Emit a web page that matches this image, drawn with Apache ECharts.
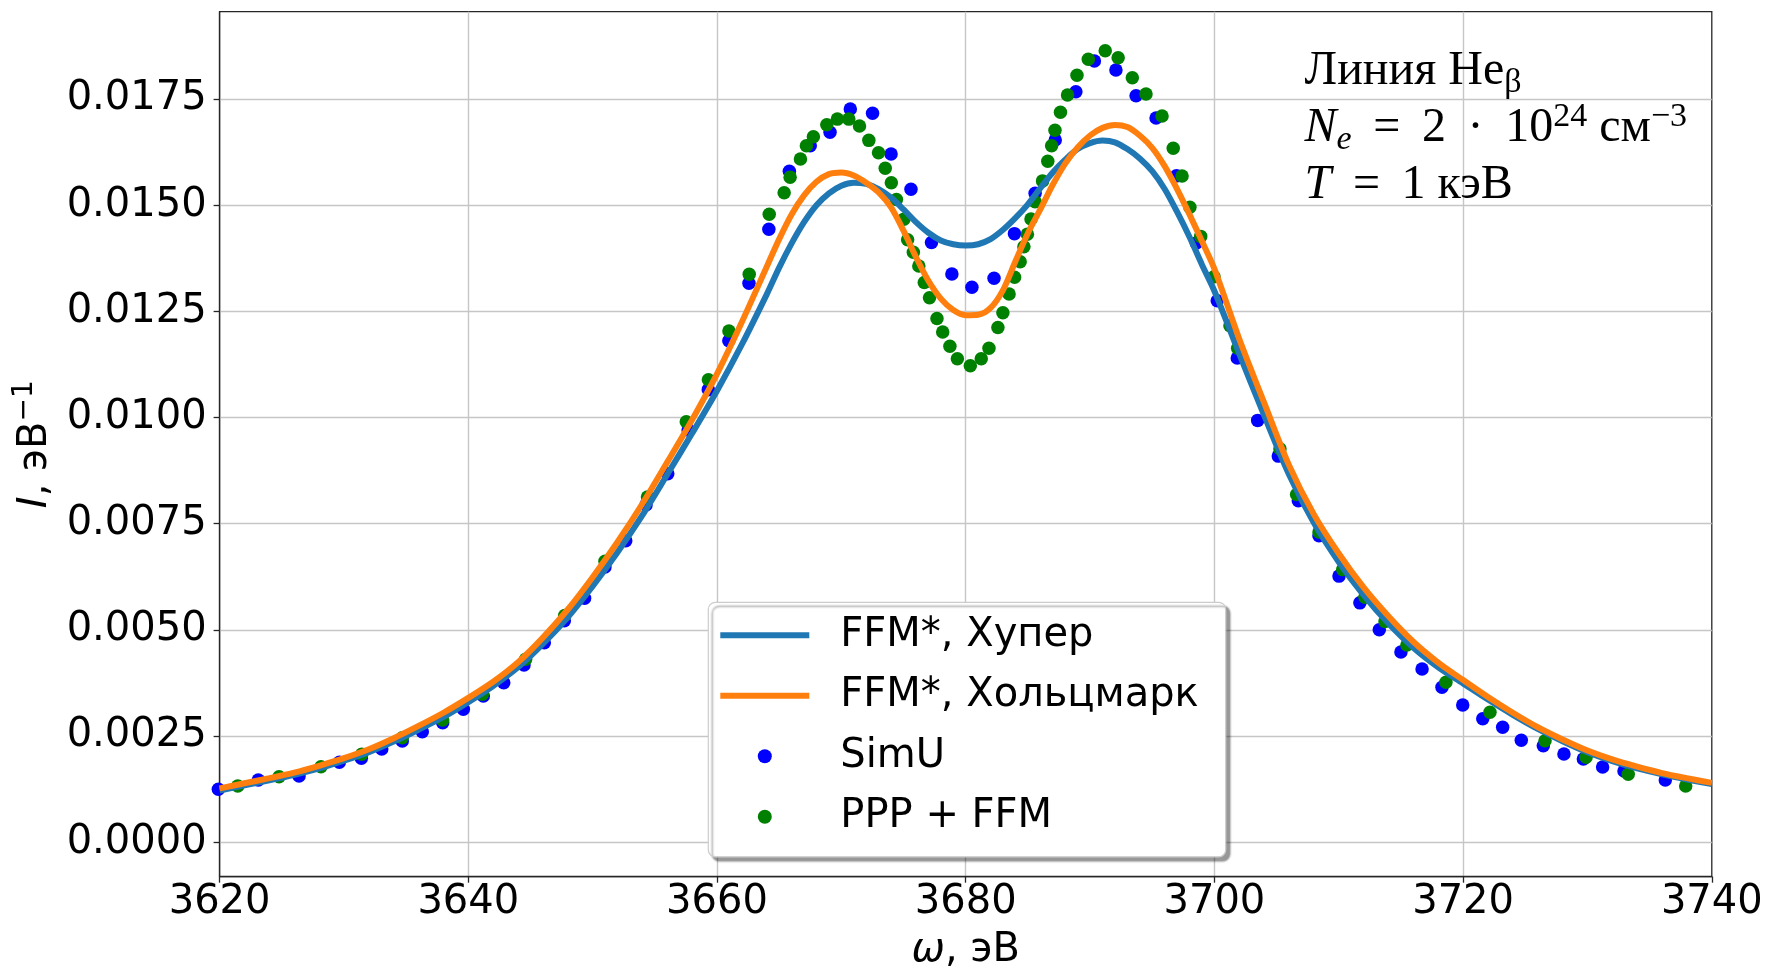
<!DOCTYPE html>
<html>
<head>
<meta charset="utf-8">
<script src="https://cdn.jsdelivr.net/npm/echarts@6/dist/echarts.min.js"></script>
<style>html,body{margin:0;padding:0;background:#fff}#c{width:1768px;height:967px}</style>
</head>
<body>
<div id="c"></div>
<script>
// ---------- data ----------
const curveX = [3620,3622,3624,3626,3628,3630,3632,3634,3636,3638,3640,3642,3644,3646,3648,3650,3652,3654,3656,3658,3660,3662,3664,
  3665,3666,3667,3668,3669,3670,3671,3672,3673,3674,3675,3676,3677,3678,3679,3680,3681,3682,3683,3684,3685,3686,3687,3688,3689,3690,3691,3692,3693,3694,3695,3696,3697,3698,3699,3700,
  3702,3704,3706,3708,3710,3712,3714,3716,3718,3720,3722,3724,3726,3728,3730,3732,3734,3736,3738,3740];
const hooperY = [0.00122,0.00134,0.00146,0.00159,0.00174,0.00192,0.00212,0.00237,0.00265,0.00295,0.00330,0.00368,0.00412,0.00467,0.00530,0.00603,0.00683,0.00770,0.00866,0.00963,0.01063,0.01172,0.01290,
  0.01353,0.01410,0.01460,0.01500,0.01528,0.01546,0.01553,0.01550,0.01538,0.01518,0.01490,0.01460,0.01435,0.01417,0.01408,0.01405,0.01408,0.01420,0.01442,0.01470,0.01502,0.01540,0.01577,0.01607,0.01632,0.01646,0.01652,0.01648,0.01632,0.01610,0.01580,0.01538,0.01484,0.01425,0.01360,0.01298,
  0.01150,0.01005,0.00866,0.00752,0.00660,0.00582,0.00515,0.00458,0.00412,0.00374,0.00336,0.00300,0.00267,0.00238,0.00212,0.00191,0.00174,0.00160,0.00148,0.00137];
const holtsmarkY = [0.00127,0.00139,0.00151,0.00164,0.00180,0.00198,0.00219,0.00245,0.00274,0.00305,0.00340,0.00378,0.00424,0.00482,0.00548,0.00624,0.00707,0.00797,0.00895,0.00995,0.01103,0.01225,0.01355,
  0.01420,0.01478,0.01523,0.01555,0.01573,0.01577,0.01570,0.01553,0.01530,0.01495,0.01440,0.01378,0.01322,0.01280,0.01253,0.01241,0.01242,0.01258,0.01300,0.01368,0.01434,0.01490,0.01548,0.01598,0.01636,0.01664,0.01682,0.01689,0.01684,0.01664,0.01635,0.01592,0.01538,0.01478,0.01415,0.01350,
  0.01185,0.01035,0.00888,0.00772,0.00680,0.00600,0.00532,0.00472,0.00423,0.00382,0.00342,0.00305,0.00271,0.00242,0.00216,0.00195,0.00178,0.00163,0.00151,0.00140];
const simuX = [3619.90,3623.11,3626.39,3629.63,3631.40,3633.04,3634.69,3636.30,3637.94,3639.60,3641.21,3642.85,3644.48,3646.11,3647.72,3649.35,3650.99,3652.66,3654.29,3656.04,3657.68,3659.30,3660.95,3662.57,3664.17,3665.82,3667.50,3669.09,3670.72,3672.51,3674.00,3675.60,3677.25,3678.89,3680.50,3682.28,3683.92,3685.58,3687.20,3688.86,3690.35,3692.08,3693.70,3695.31,3696.95,3698.55,3700.23,3701.84,3703.48,3705.14,3706.75,3708.41,3710.02,3711.70,3713.26,3715.00,3716.70,3718.30,3719.97,3721.58,3723.18,3724.68,3726.45,3728.11,3729.67,3731.22,3732.94,3736.26];
const simuY = [0.001248,0.001467,0.001561,0.001883,0.001978,0.002197,0.002385,0.002604,0.002816,0.003131,0.003444,0.003758,0.004174,0.004699,0.005215,0.005744,0.006480,0.007101,0.007941,0.008675,0.009707,0.010657,0.011809,0.013160,0.014432,0.015800,0.016400,0.016716,0.017264,0.017163,0.016205,0.015377,0.014121,0.013379,0.013066,0.013278,0.014330,0.015279,0.016534,0.017671,0.018394,0.018182,0.017574,0.017050,0.015690,0.014110,0.012751,0.011404,0.009933,0.009092,0.008042,0.007218,0.006267,0.005637,0.005006,0.004482,0.004080,0.003649,0.003232,0.002910,0.002707,0.002401,0.002274,0.002079,0.001961,0.001773,0.001679,0.001467];
const pppX = [3621.46,3624.78,3628.15,3631.43,3634.69,3637.94,3641.13,3644.61,3647.75,3650.99,3654.41,3657.53,3659.31,3660.96,3662.59,3664.20,3665.40,3665.88,3666.71,3667.19,3667.75,3668.83,3669.68,3670.60,3671.46,3672.21,3672.99,3673.53,3674.02,3674.43,3675.03,3675.33,3675.79,3676.23,3676.67,3677.09,3677.69,3678.15,3678.73,3679.33,3680.37,3681.25,3681.87,3682.59,3682.99,3683.49,3683.93,3684.38,3684.68,3684.96,3685.25,3685.58,3686.18,3686.60,3686.91,3687.18,3687.62,3688.19,3688.95,3689.86,3691.22,3692.26,3693.40,3694.50,3695.79,3696.69,3697.40,3698.03,3698.90,3699.97,3701.25,3701.87,3705.27,3706.61,3708.41,3710.32,3712.11,3713.72,3715.48,3718.62,3722.16,3726.59,3729.89,3733.28,3737.90];
const pppY = [0.001325,0.001545,0.001780,0.002072,0.002463,0.002879,0.003484,0.004308,0.005340,0.006615,0.008130,0.009903,0.010892,0.012038,0.013372,0.014785,0.015293,0.015660,0.016087,0.016397,0.016612,0.016893,0.017026,0.017026,0.016864,0.016526,0.016235,0.015868,0.015529,0.015133,0.014671,0.014188,0.013890,0.013568,0.013180,0.012821,0.012332,0.012014,0.011677,0.011382,0.011221,0.011382,0.011630,0.012120,0.012468,0.012908,0.013302,0.013666,0.014022,0.014318,0.014675,0.015082,0.015572,0.016032,0.016397,0.016762,0.017186,0.017593,0.018060,0.018434,0.018636,0.018472,0.018001,0.017617,0.017100,0.016340,0.015686,0.014952,0.014265,0.013313,0.012162,0.011633,0.009262,0.008186,0.007303,0.006420,0.005770,0.005198,0.004646,0.003767,0.003061,0.002392,0.002001,0.001601,0.001325];
const seriesNames = ['FFM*, Хупер', 'FFM*, Хольцмарк', 'SimU', 'PPP + FFM'];
const yTickValues = [0, 0.0025, 0.005, 0.0075, 0.01, 0.0125, 0.015, 0.0175];
const X_MIN = 3620, X_MAX = 3740, X_STEP = 20;
const Y_MIN = -0.00081, Y_MAX = 0.019555;

// ---------- chart ----------
const FONT = 'DejaVu Sans';
const SERIF = 'Liberation Serif';
const AXIS_COLOR = '#262626';
const GRID_COLOR = '#c6c6c6';
const LINE_ICON = 'path://M0,0H89V6H0Z';
const zip = (xs, ys) => xs.map((x, i) => [x, ys[i]]);

const chart = echarts.init(document.getElementById('c'), null, {renderer: 'canvas', width: 1768, height: 967});
chart.setOption({
  animation: false,
  backgroundColor: '#ffffff',
  textStyle: {fontFamily: FONT},
  grid: {left: 219.6, right: 56.2, top: 11.7, bottom: 90.3, show: true, borderColor: AXIS_COLOR, borderWidth: 1.3,
         backgroundColor: 'transparent', containLabel: false, outerBoundsMode: 'none'},
  xAxis: {
    type: 'value', min: X_MIN, max: X_MAX, interval: X_STEP,
    axisLine: {show: true, onZero: false, lineStyle: {color: AXIS_COLOR, width: 1.3}},
    axisTick: {show: true, length: 6, lineStyle: {color: AXIS_COLOR, width: 1.3}},
    axisLabel: {fontSize: 40, fontFamily: FONT, color: '#000', margin: 6, formatter: v => String(v)},
    splitLine: {show: true, showMinLine: false, showMaxLine: false, lineStyle: {color: GRID_COLOR, width: 1.4}},
    name: '{i|ω}{n|, эВ}', nameLocation: 'middle', nameGap: 54,
    nameTextStyle: {rich: {
      i: {fontStyle: 'italic', fontSize: 40, fontFamily: FONT, color: '#000', lineHeight: 40},
      n: {fontSize: 40, fontFamily: FONT, color: '#000', lineHeight: 40}
    }}
  },
  yAxis: {
    type: 'value', min: Y_MIN, max: Y_MAX,
    axisLine: {show: true, onZero: false, lineStyle: {color: AXIS_COLOR, width: 1.3}},
    axisTick: {show: true, length: 6, customValues: yTickValues, lineStyle: {color: AXIS_COLOR, width: 1.3}},
    axisLabel: {fontSize: 40, fontFamily: FONT, color: '#000', margin: 13, customValues: yTickValues, formatter: v => v.toFixed(4)},
    splitLine: {show: true, lineStyle: {color: GRID_COLOR, width: 1.4}},
    name: '{i|I}{n|, эВ}{s|−1}', nameLocation: 'middle', nameGap: 157,
    nameTextStyle: {rich: {
      i: {fontStyle: 'italic', fontSize: 40, fontFamily: FONT, color: '#000', lineHeight: 50},
      n: {fontSize: 40, fontFamily: FONT, color: '#000', lineHeight: 50},
      s: {fontSize: 28, fontFamily: FONT, color: '#000', lineHeight: 28, verticalAlign: 'top'}
    }}
  },
  legend: {
    orient: 'vertical', left: 708.3, top: 602.3,
    itemWidth: 89, itemHeight: 14, itemGap: 14.5,
    padding: [10, 27, 17, 12],
    backgroundColor: '#ffffff', borderColor: '#cccccc', borderWidth: 1.2, borderRadius: 7,
    shadowColor: 'rgba(0,0,0,0.4)', shadowBlur: 2, shadowOffsetX: 4, shadowOffsetY: 4,
    textStyle: {fontSize: 40, fontFamily: FONT, color: '#000', lineHeight: 46, padding: [0, 0, 0, 26]},
    selectedMode: false,
    data: [
      {name: seriesNames[0], icon: LINE_ICON},
      {name: seriesNames[1], icon: LINE_ICON},
      {name: seriesNames[2], icon: 'circle'},
      {name: seriesNames[3], icon: 'circle'}
    ]
  },
  graphic: [{
    type: 'text', left: 1304.6, top: 42.6, z: 100,
    style: {
      text: 'Линия He{sub|β}\n{i|N}{isub|e}\u2009 = \u20092\u2009 · \u200910{sup|24} см{sup|−3}\n{i|T}\u2009 = \u20091 кэВ',
      fontSize: 48, fontFamily: SERIF, lineHeight: 57, fill: '#000',
      rich: {
        sub: {fontSize: 34, fontFamily: SERIF, lineHeight: 28, verticalAlign: 'bottom', fill: '#000'},
        isub: {fontSize: 34, fontFamily: SERIF, fontStyle: 'italic', lineHeight: 28, verticalAlign: 'bottom', fill: '#000'},
        sup: {fontSize: 34, fontFamily: SERIF, lineHeight: 34, verticalAlign: 'top', fill: '#000'},
        i: {fontSize: 48, fontFamily: SERIF, fontStyle: 'italic', lineHeight: 57, fill: '#000'}
      }
    }
  }],
  series: [
    {name: seriesNames[0], type: 'line', data: zip(curveX, hooperY), symbol: 'none', showSymbol: false, smooth: 0.3,
     lineStyle: {color: '#1f77b4', width: 6}, itemStyle: {color: '#1f77b4'}},
    {name: seriesNames[1], type: 'line', data: zip(curveX, holtsmarkY), symbol: 'none', showSymbol: false, smooth: 0.3,
     lineStyle: {color: '#ff7f0e', width: 6}, itemStyle: {color: '#ff7f0e'}},
    {name: seriesNames[2], type: 'scatter', data: zip(simuX, simuY), symbol: 'circle', symbolSize: 13.5, clip: false,
     itemStyle: {color: '#0000ff', opacity: 1}},
    {name: seriesNames[3], type: 'scatter', data: zip(pppX, pppY), symbol: 'circle', symbolSize: 13.5, clip: false,
     itemStyle: {color: '#008000', opacity: 1}}
  ]
});
</script>
</body>
</html>
